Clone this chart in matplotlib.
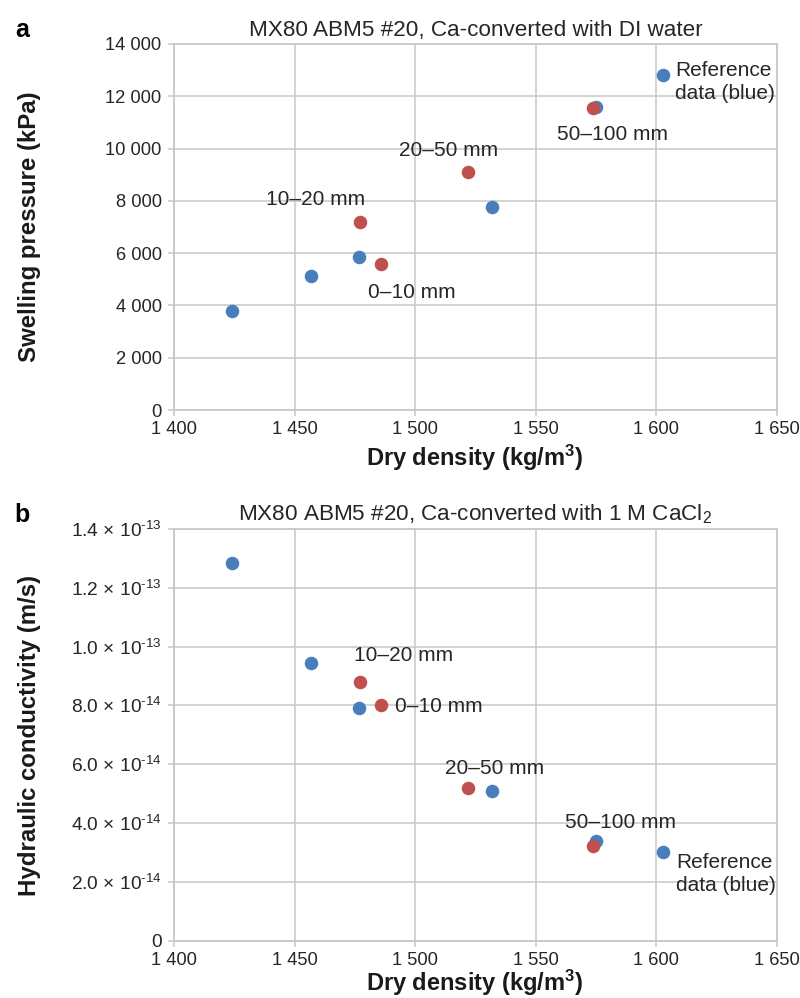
import numpy as np
import matplotlib
matplotlib.use("Agg")
import matplotlib.pyplot as plt
from matplotlib.ticker import FuncFormatter, MultipleLocator

plt.rcParams['font.family'] = ['Liberation Sans', 'DejaVu Sans']
plt.rcParams['mathtext.default'] = 'regular'

# dry density (kg/m3) of the reference samples (blue) and the sliced samples (red)
ref_density = [1424.0, 1456.6, 1476.8, 1532.0, 1575.0, 1602.9]
slice_density = [1485.7, 1477.0, 1521.8, 1573.6]
slice_names = ['0\u201310 mm', '10\u201320 mm', '20\u201350 mm', '50\u2013100 mm']

# swelling pressure (kPa), DI water
ref_pressure = [3790, 5130, 5840, 7770, 11580, 12800]
slice_pressure = [5590, 7200, 9100, 11540]

# hydraulic conductivity (m/s), 1 M CaCl2
ref_conductivity = [1.283e-13, 9.43e-14, 7.90e-14, 5.08e-14, 3.39e-14, 3.02e-14]
slice_conductivity = [8.01e-14, 8.79e-14, 5.18e-14, 3.22e-14]

k_ticks = [0, 2e-14, 4e-14, 6e-14, 8e-14, 1e-13, 1.2e-13, 1.4e-13]

BLUE = '#4a7ebb'
RED = '#c0504d'
GRID = '#c8c8c8'
TXT = '#262626'
LBL = 17.0   # bold axis titles
ANN = 15     # point labels

fig = plt.figure(figsize=(8, 9.98), dpi=100)
ax_a = fig.add_axes([174 / 800, 1 - 410 / 998, 603 / 800, 366 / 998])
ax_b = fig.add_axes([174 / 800, 1 - 940.7 / 998, 603 / 800, 411.7 / 998])


def space_thousands(v, pos):
    return f"{v:,.0f}".replace(',', ' ')


def sci_label(v, pos):
    if v == 0:
        return '0'
    exp = int(np.floor(np.log10(v)))
    mant = v / 10 ** exp
    return f"{mant:.1f} \u00d7 10$^{{\u2010{-exp}}}$"


for ax in (ax_a, ax_b):
    ax.set_xlim(1400, 1650)
    ax.xaxis.set_major_locator(MultipleLocator(50))
    ax.xaxis.set_major_formatter(FuncFormatter(space_thousands))
    ax.grid(True, color=GRID, lw=1.1)
    ax.set_axisbelow(True)
    for s in ax.spines.values():
        s.set_color(GRID)
        s.set_linewidth(1.3)
    ax.tick_params(colors=GRID, labelcolor=TXT, labelsize=13.2, length=4, width=1.1)
    ax.tick_params(axis='x', pad=4)
    ax.tick_params(axis='y', pad=5)

# panel a
ax_a.set_ylim(0, 14000)
ax_a.yaxis.set_major_locator(MultipleLocator(2000))
ax_a.yaxis.set_major_formatter(FuncFormatter(space_thousands))
ax_a.scatter(ref_density, ref_pressure, s=95, color=BLUE, zorder=3, lw=0)
ax_a.scatter(slice_density, slice_pressure, s=95, color=RED, zorder=4, lw=0)

offs_a = [(-13, -29, 'left'), (-44, 22, 'center'), (-19, 22, 'center'), (20, -26, 'center')]
for x, y, name, (dx, dy, ha) in zip(slice_density, slice_pressure, slice_names, offs_a):
    ax_a.annotate(name, (x, y), xytext=(dx, dy), textcoords='offset pixels',
                  ha=ha, va='center', fontsize=ANN, color=TXT)
ax_a.annotate('Reference\ndata (blue)', (ref_density[-1], ref_pressure[-1]), xytext=(12, -7),
              textcoords='offset pixels', ha='left', va='center', fontsize=ANN,
              color=TXT, linespacing=1.25)
ax_a.set_title('MX80 ABM5 #20, Ca-converted with DI water', fontsize=16.2, color=TXT, pad=6)

# panel b
ax_b.set_ylim(0, 1.4e-13)
ax_b.set_yticks(k_ticks)
ax_b.yaxis.set_major_formatter(FuncFormatter(sci_label))
ax_b.tick_params(axis='y', labelsize=13.8)
ax_b.scatter(ref_density, ref_conductivity, s=95, color=BLUE, zorder=3, lw=0)
ax_b.scatter(slice_density, slice_conductivity, s=95, color=RED, zorder=4, lw=0)

offs_b = [(14, -1, 'left'), (44, 27, 'center'), (27, 20, 'center'), (28, 24, 'center')]
for x, y, name, (dx, dy, ha) in zip(slice_density, slice_conductivity, slice_names, offs_b):
    ax_b.annotate(name, (x, y), xytext=(dx, dy), textcoords='offset pixels',
                  ha=ha, va='center', fontsize=ANN, color=TXT)
ax_b.annotate('Reference\ndata (blue)', (ref_density[-1], ref_conductivity[-1]), xytext=(13, -22),
              textcoords='offset pixels', ha='left', va='center', fontsize=ANN,
              color=TXT, linespacing=1.25)
ax_b.set_title('MX80 ABM5 #20, Ca-converted with 1 M CaCl$_2$', fontsize=16.2, color=TXT, pad=6)

# axis titles and panel letters
fig.text(30 / 800, 1 - 227 / 998, 'Swelling pressure (kPa)', rotation=90, ha='center',
         va='center', fontsize=17.3, fontweight='bold', color='#1a1a1a')
fig.text(30 / 800, 1 - 735 / 998, 'Hydraulic conductivity (m/s)', rotation=90, ha='center',
         va='center', fontsize=17.3, fontweight='bold', color='#1a1a1a')
fig.text(475 / 800, 1 - 466 / 998, 'Dry density (kg/m$^3$)', ha='center', va='baseline',
         fontsize=LBL, fontweight='bold', color='#1a1a1a')
fig.text(475 / 800, 1 - 991 / 998, 'Dry density (kg/m$^3$)', ha='center', va='baseline',
         fontsize=LBL, fontweight='bold', color='#1a1a1a')
fig.text(22 / 800, 1 - 30 / 998, 'a', ha='center', va='center', fontsize=18, fontweight='bold')
fig.text(22 / 800, 1 - 515 / 998, 'b', ha='center', va='center', fontsize=18, fontweight='bold')

fig.savefig('out.png', dpi=100)
